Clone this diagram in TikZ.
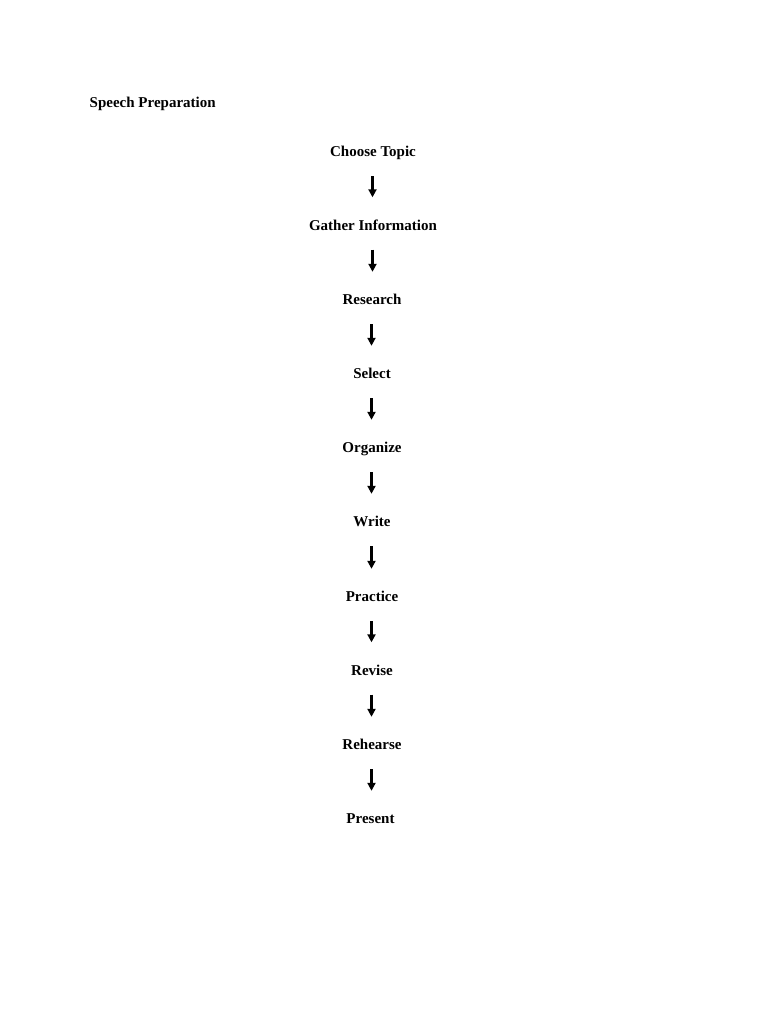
\documentclass[tikz,border=0pt]{standalone}
\usepackage{fontspec}
\setmainfont{Liberation Serif}
\usetikzlibrary{arrows.meta}
\begin{document}
\begin{tikzpicture}[x=1pt,y=-1pt,
  stepnode/.style={font=\fontsize{15}{17}\selectfont\bfseries, inner sep=0pt, text height=10pt, text depth=3pt},
  flowarrow/.style={line width=2.5pt, -{Triangle[length=8pt,width=8pt]}, shorten <=16.5pt, shorten >=22.5pt}]
\useasboundingbox[fill=white] (0,0) rectangle (768,1024);
\node[stepnode, anchor=west] (title) at (89.5,104) {Speech Preparation};
\node[stepnode] (n1) at (373,153) {Choose Topic};
\node[stepnode] (n2) at (373,226.5) {Gather Information};
\node[stepnode] (n3) at (372,301) {Research};
\node[stepnode] (n4) at (372,375) {Select};
\node[stepnode] (n5) at (372,449) {Organize};
\node[stepnode] (n6) at (372,523) {Write};
\node[stepnode] (n7) at (372,598) {Practice};
\node[stepnode] (n8) at (372,671.5) {Revise};
\node[stepnode] (n9) at (372,746) {Rehearse};
\node[stepnode] (n10) at (370.5,820) {Present};
\foreach \a/\b in {n1/n2,n2/n3,n3/n4,n4/n5,n5/n6,n6/n7,n7/n8,n8/n9,n9/n10}{
  \draw[flowarrow] ([xshift=-0.5pt]\a.south) -- ([xshift=-0.5pt]\a.south |- \b.north);
}
\end{tikzpicture}
\end{document}
